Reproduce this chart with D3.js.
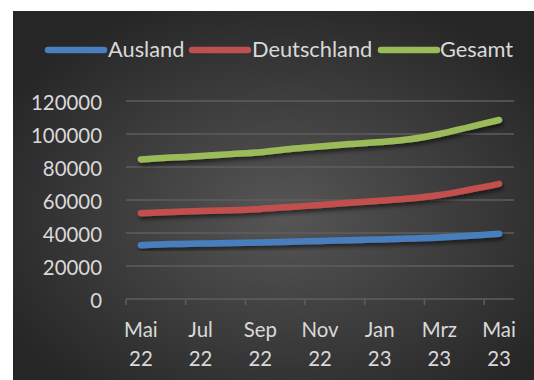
<!DOCTYPE html>
<html>
<head>
<meta charset="utf-8">
<script src="https://cdn.jsdelivr.net/npm/d3@7/dist/d3.min.js"></script>
<style>
  html, body { margin: 0; padding: 0; background: #ffffff; }
  svg { display: block; }
  text { font-family: Lato, "Open Sans", sans-serif; fill: #d9d9d9; }
</style>
</head>
<body>
<svg id="chart" width="534" height="380"></svg>
<script>
// Monthly categories, May 2022 – May 2023
const months = ["Mai 22", "Jun 22", "Jul 22", "Aug 22", "Sep 22", "Okt 22", "Nov 22",
                "Dez 22", "Jan 23", "Feb 23", "Mrz 23", "Apr 23", "Mai 23"];

// Series values
const ausland     = [32600, 33300, 33600, 33900, 34300, 34700, 35200, 35600, 36100, 36700, 37300, 38400, 39500];
const deutschland = [52000, 52800, 53300, 53800, 54600, 55800, 57000, 58300, 59600, 60900, 63000, 66200, 69800];
const gesamt      = [84600, 85700, 86600, 87800, 89000, 90900, 92400, 93900, 95100, 96800, 100000, 104200, 108500];

// Axis ticks
const yTicks = [0, 20000, 40000, 60000, 80000, 100000, 120000];

const seriesNames  = ["Ausland", "Deutschland", "Gesamt"];
const seriesValues = [ausland, deutschland, gesamt];
const colors = ["#4a7ebe", "#c0504d", "#9bbb59"];

const svg = d3.select("#chart");

// Background with radial shading
const defs = svg.append("defs");
const grad = defs.append("radialGradient")
  .attr("id", "bg").attr("cx", "52%").attr("cy", "55%").attr("r", "62%");
grad.append("stop").attr("offset", "0%").attr("stop-color", "#565656");
grad.append("stop").attr("offset", "100%").attr("stop-color", "#262626");

const shadow = defs.append("filter").attr("id", "shadow")
  .attr("x", "-10%").attr("y", "-50%").attr("width", "120%").attr("height", "200%");
shadow.append("feDropShadow")
  .attr("dx", 1.5).attr("dy", 3).attr("stdDeviation", 2)
  .attr("flood-color", "#000").attr("flood-opacity", 0.55);

svg.append("rect")
  .attr("x", 13).attr("y", 11).attr("width", 521).attr("height", 369)
  .attr("fill", "url(#bg)");

// Scales
const x = d3.scaleBand().domain(months).range([126, 514]).padding(0);
const y = d3.scaleLinear().domain([0, 120000]).range([299, 101]);

// Gridlines
svg.append("g")
  .selectAll("line")
  .data(yTicks.filter(d => d > 0))
  .join("line")
  .attr("x1", 126).attr("x2", 514)
  .attr("y1", d => y(d)).attr("y2", d => y(d))
  .attr("stroke", "#5e5e5e").attr("stroke-width", 1.5);

// Y axis labels
const yAxis = svg.append("g")
  .attr("transform", "translate(126,0)")
  .call(d3.axisLeft(y).tickValues(yTicks).tickSize(0).tickPadding(24).tickFormat(d3.format("d")));
yAxis.select(".domain").remove();
yAxis.selectAll("text")
  .attr("font-size", 20.4).attr("dy", "0.4em")
  .style("font-family", "Lato, 'Open Sans', sans-serif").attr("fill", "#d9d9d9");

// X axis line and tick marks between every second month
svg.append("line")
  .attr("x1", 126).attr("x2", 514).attr("y1", y(0)).attr("y2", y(0))
  .attr("stroke", "#5e5e5e").attr("stroke-width", 1.5);
svg.append("g")
  .selectAll("line")
  .data(months.filter((d, i) => i % 2 === 0))
  .join("line")
  .attr("x1", d => x(d)).attr("x2", d => x(d))
  .attr("y1", y(0)).attr("y2", y(0) + 6)
  .attr("stroke", "#5e5e5e").attr("stroke-width", 1.5);

// X labels (two lines: month / year)
const xLab = svg.append("g")
  .selectAll("text")
  .data(months.filter((d, i) => i % 2 === 0))
  .join("text")
  .attr("text-anchor", "middle")
  .attr("font-size", 20.4)
  .attr("x", d => x(d) + x.bandwidth() / 2);
xLab.append("tspan").attr("x", d => x(d) + x.bandwidth() / 2).attr("y", 337.3)
  .text(d => d.split(" ")[0]);
xLab.append("tspan").attr("x", d => x(d) + x.bandwidth() / 2).attr("y", 366)
  .text(d => d.split(" ")[1]);

// Smoothed series lines
const line = d3.line()
  .x((d, i) => x(months[i]) + x.bandwidth() / 2)
  .y(d => y(d))
  .curve(d3.curveCatmullRom.alpha(0.5));

svg.append("g")
  .selectAll("path")
  .data(seriesValues)
  .join("path")
  .attr("d", d => line(d))
  .attr("fill", "none")
  .attr("stroke", (d, i) => colors[i])
  .attr("stroke-width", 6.5)
  .attr("stroke-linecap", "round")
  .attr("stroke-linejoin", "round")
  .attr("filter", "url(#shadow)");

// Legend
const legendItems = [
  { x: 48, tx: 108 },
  { x: 192, tx: 252 },
  { x: 381, tx: 440 }
];
const legend = svg.append("g");
legendItems.forEach((item, i) => {
  legend.append("line")
    .attr("x1", item.x).attr("x2", item.x + 56)
    .attr("y1", 50).attr("y2", 50)
    .attr("stroke", colors[i]).attr("stroke-width", 6.5)
    .attr("stroke-linecap", "round");
  legend.append("text")
    .attr("x", item.tx).attr("y", 57)
    .attr("font-size", 21.8)
    .text(seriesNames[i]);
});
</script>
</body>
</html>
